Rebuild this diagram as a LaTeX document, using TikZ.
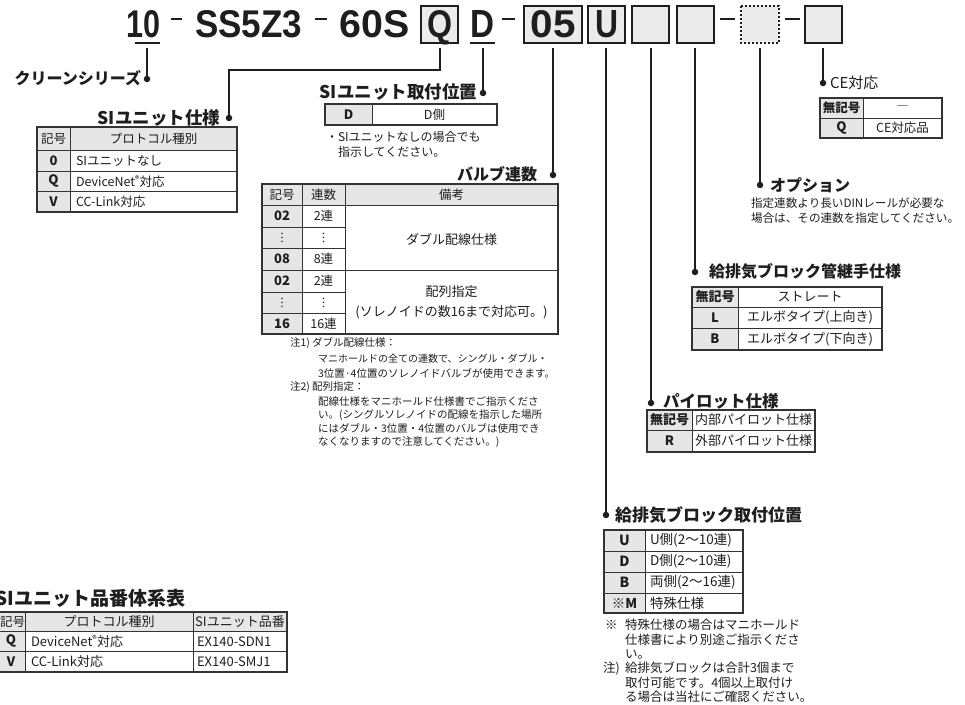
\documentclass[tikz,border=0pt]{standalone}
\usepackage{fontspec}
\usepackage{graphicx}
\setmainfont{Noto Sans CJK JP}
\newfontfamily\ttlfont{Liberation Sans}
\definecolor{ink}{HTML}{1E1E1E}
\definecolor{cellgray}{HTML}{E6E6E6}
\definecolor{boxgray}{HTML}{EBEBEB}
\definecolor{rulec}{HTML}{333333}
\newcommand\myfs[1]{\fontsize{#1}{#1}\selectfont}
\newcommand\ttl[2]{\resizebox{#1pt}{27pt}{\ttlfont\bfseries #2}}
\tikzset{
  txt/.style={inner sep=0pt, outer sep=0pt, text=ink},
  conn/.style={draw=ink, line width=1.3pt},
  dotn/.style={circle, fill=ink, inner sep=0pt, minimum size=6.5pt},
  tbo/.style={draw=rulec, line width=1.2pt},
  tbi/.style={draw=rulec, line width=0.6pt},
  hbox/.style={draw=ink, line width=1.4pt, fill=boxgray},
  dbox/.style={draw=ink, line width=1.4pt, fill=boxgray, dash pattern=on 2pt off 2pt},
  tdash/.style={draw=ink, line width=2.8pt},
  uline/.style={draw=ink, line width=1.6pt},
  cell/.style={txt, font={\myfs{12.5}}},
  cellb/.style={txt, font={\myfs{13}\bfseries}},
  note/.style={txt, anchor=west, font={\myfs{10.5}}},
  hdl/.style={txt, font={\bfseries}}
}
\begin{document}
\begin{tikzpicture}[x=1pt,y=-1pt]
\useasboundingbox (0,0) rectangle (965,704);
\fill[white] (0,0) rectangle (965,704);

% ---------- title ----------
\node[txt, anchor=base] (t10) at (144,37) {\ttl{34}{10}};
\draw[uline] (135,43) -- (160,43);
\draw[tdash] (171,19) -- (182,19);
\node[txt, anchor=base] (tss) at (248.5,37) {\ttl{107}{SS5Z3}};
\draw[tdash] (315,19) -- (327,19);
\node[txt, anchor=base] (t60) at (375,37) {\ttl{70}{60S}};
\draw[hbox] (421,6) rectangle (458,43);
\node[txt, anchor=base] (tq) at (439.5,37) {\ttl{25}{Q}};
\node[txt, anchor=base] (td) at (482.5,37) {\ttl{24}{D}};
\draw[uline] (470,43) -- (495,43);
\draw[tdash] (502,19) -- (515,19);
\draw[hbox] (524,6) rectangle (582,43);
\node[txt, anchor=base] (t05) at (553,37) {\ttl{45}{05}};
\draw[hbox] (588,6) rectangle (625,43);
\node[txt, anchor=base] (tu) at (606.5,37) {\ttl{23}{U}};
\draw[hbox] (632,6) rectangle (669,43);
\draw[hbox] (677,6) rectangle (714,43);
\draw[tdash] (720,19) -- (735,19);
\draw[dbox] (741,6) rectangle (779,43);
\draw[tdash] (785,19) -- (800,19);
\draw[hbox] (805,6) rectangle (842,43);

% ---------- connector starts ----------
\coordinate (c10) at (147,48);
\coordinate (cq) at (440,48);
\coordinate (kq) at (229,70);
\coordinate (cd) at (483,48);
\coordinate (c05) at (553,48);
\coordinate (cu) at (606,48);
\coordinate (cb1) at (651,48);
\coordinate (cb2) at (695,48);
\coordinate (cop) at (760,48);
\coordinate (cce) at (823,48);

% ---------- dots ----------
\node[dotn] (dclean) at (147,79) {};
\node[dotn] (dsi) at (229,118) {};
\node[dotn] (dmount) at (483,93) {};
\node[dotn] (dvalve) at (553,175) {};
\node[dotn] (dblk) at (606,515) {};
\node[dotn] (dpilot) at (651,403) {};
\node[dotn] (dfit) at (695,272) {};
\node[dotn] (dopt) at (760,185) {};
\node[dotn] (dce) at (823,83) {};

\draw[conn] (c10) -- (dclean);
\draw[conn] (cq) |- (kq) -- (dsi);
\draw[conn] (cd) -- (dmount);
\draw[conn] (c05) -- (dvalve);
\draw[conn] (cu) -- (dblk);
\draw[conn] (cb1) -- (dpilot);
\draw[conn] (cb2) -- (dfit);
\draw[conn] (cop) -- (dopt);
\draw[conn] (cce) -- (dce);

% ---------- headings ----------
\node[hdl, anchor=east, font={\myfs{16}\bfseries}] (hclean) at (141,78) {クリーンシリーズ};
\node[hdl, anchor=east, font={\myfs{17.5}\bfseries}] (hsi) at (220,118) {SIユニット仕様};
\node[hdl, anchor=east, font={\myfs{17.5}\bfseries}] (hmount) at (477,92) {SIユニット取付位置};
\node[hdl, anchor=east, font={\myfs{16}\bfseries}] (hvalve) at (537,174) {バルブ連数};
\node[txt, anchor=west, font={\myfs{15}}] (hce) at (830,83) {CE対応};
\node[hdl, anchor=west, font={\myfs{16}\bfseries}] (hopt) at (770,185) {オプション};
\node[hdl, anchor=west, font={\myfs{16}\bfseries}] (hfit) at (709,271) {給排気ブロック管継手仕様};
\node[hdl, anchor=west, font={\myfs{16.5}\bfseries}] (hpilot) at (663,401) {パイロット仕様};
\node[hdl, anchor=west, font={\myfs{17}\bfseries}] (hblk) at (615,515) {給排気ブロック取付位置};
\node[hdl, anchor=east, font={\myfs{19}\bfseries}] (hpn) at (185,598) {SIユニット品番体系表};

% ---------- table A: SI unit spec ----------
\fill[cellgray] (37,127) rectangle (237,150);
\fill[cellgray] (37,150) rectangle (70,212);
\draw[tbi] (70,127) -- (70,212);
\draw[tbi] (37,150) -- (237,150) (37,171) -- (237,171) (37,191.5) -- (237,191.5);
\draw[tbo] (37,127) rectangle (237,212);
\node[cell] (a00) at (53.5,138.5) {記号};
\node[cell] (a01) at (153.5,138.5) {プロトコル種別};
\node[cellb] (a10) at (53.5,160.5) {0};
\node[cell, anchor=west] (a11) at (76,160.5) {SIユニットなし};
\node[cellb] (a20) at (53.5,181.25) {Q};
\node[cell, anchor=west] (a21) at (76,181.25) {DeviceNet\textsuperscript{®}対応};
\node[cellb] (a30) at (53.5,201.75) {V};
\node[cell, anchor=west] (a31) at (76,201.75) {CC-Link対応};

% ---------- table B: SI unit mounting ----------
\fill[cellgray] (325,104) rectangle (372,125);
\draw[tbi] (372,104) -- (372,125);
\draw[tbo] (325,104) rectangle (497,125);
\node[cellb] (b0) at (348.5,114.5) {D};
\node[cell] (b1) at (434.5,114.5) {D側};
\node[txt, anchor=west, font={\myfs{12}}] (bn1) at (326,137) {・SIユニットなしの場合でも};
\node[txt, anchor=west, font={\myfs{12}}] (bn2) at (338,152) {指示してください。};

% ---------- table C: valve stations ----------
\fill[cellgray] (262,184) rectangle (558,205);
\fill[cellgray] (262,205) rectangle (302,334);
\draw[tbi] (302,184) -- (302,334) (345,184) -- (345,334);
\draw[tbi] (262,205) -- (558,205) (262,270) -- (558,270);
\draw[tbi] (262,227) -- (345,227) (262,248) -- (345,248) (262,292) -- (345,292) (262,313) -- (345,313);
\draw[tbo] (262,184) rectangle (558,334);
\node[cell] (c00) at (282,194.5) {記号};
\node[cell] (c01) at (323.5,194.5) {連数};
\node[cell] (c02) at (451.5,194.5) {備考};
\node[cellb] (c10t) at (282,216) {02};
\node[cell] (c11) at (323.5,216) {2連};
\node[cell, font={\myfs{12}}] (c20) at (282,237.5) {︙};
\node[cell, font={\myfs{12}}] (c21) at (323.5,237.5) {︙};
\node[cellb] (c30) at (282,259) {08};
\node[cell] (c31) at (323.5,259) {8連};
\node[cellb] (c40) at (282,281) {02};
\node[cell] (c41) at (323.5,281) {2連};
\node[cell, font={\myfs{12}}] (c50) at (282,302.5) {︙};
\node[cell, font={\myfs{12}}] (c51) at (323.5,302.5) {︙};
\node[cellb] (c60) at (282,323.5) {16};
\node[cell] (c61) at (323.5,323.5) {16連};
\node[cell, font={\myfs{13}}] (cg1) at (451.5,239) {ダブル配線仕様};
\node[cell, font={\myfs{13}}] (cg2a) at (451.5,292) {配列指定};
\node[cell, font={\myfs{13}}] (cg2b) at (451.5,312) {(ソレノイドの数16まで対応可。)};
\node[note] (cn1) at (290,343) {注1) ダブル配線仕様：};
\node[note, font={\myfs{10}}] (cn2) at (318,359) {マニホールドの全ての連数で、シングル・ダブル・};
\node[note] (cn3) at (318,373) {3位置·4位置のソレノイドバルブが使用できます。};
\node[note] (cn4) at (290,387) {注2) 配列指定：};
\node[note] (cn5) at (318,401.5) {配線仕様をマニホールド仕様書でご指示くださ};
\node[note] (cn6) at (318,415) {い。(シングルソレノイドの配線を指示した場所};
\node[note] (cn7) at (318,428.5) {にはダブル・3位置・4位置のバルブは使用でき};
\node[note] (cn8) at (318,442) {なくなりますので注意してください。)};

% ---------- table D: CE ----------
\fill[cellgray] (820,98) rectangle (863,138);
\draw[tbi] (863,98) -- (863,138) (820,118) -- (942,118);
\draw[tbo] (820,98) rectangle (942,138);
\node[cellb, font={\myfs{12.5}\bfseries}] (d00) at (841.5,108) {無記号};
\node[cell] (d01) at (902.5,108) {―};
\node[cellb] (d10) at (841.5,128) {Q};
\node[cell] (d11) at (902.5,128) {CE対応品};

% ---------- option text ----------
\node[txt, anchor=west, font={\myfs{11.6}}] (op1) at (751,203) {指定連数より長いDINレールが必要な};
\node[txt, anchor=west, font={\myfs{11.6}}] (op2) at (751,218) {場合は、その連数を指定してください。};

% ---------- table E: fittings ----------
\fill[cellgray] (692,287) rectangle (738,350);
\draw[tbi] (738,287) -- (738,350) (692,307) -- (882,307) (692,328.3) -- (882,328.3);
\draw[tbo] (692,287) rectangle (882,350);
\node[cellb, font={\myfs{13}\bfseries}] (e00) at (715,297) {無記号};
\node[cell, font={\myfs{13}}] (e01) at (810,297) {ストレート};
\node[cellb] (e10) at (715,317.6) {L};
\node[cell, font={\myfs{13}}] (e11) at (810,317.6) {エルボタイプ(上向き)};
\node[cellb] (e20) at (715,339) {B};
\node[cell, font={\myfs{13}}] (e21) at (810,339) {エルボタイプ(下向き)};

% ---------- table F: pilot ----------
\fill[cellgray] (647,410) rectangle (692,452);
\draw[tbi] (692,410) -- (692,452) (647,430) -- (815,430);
\draw[tbo] (647,410) rectangle (815,452);
\node[cellb, font={\myfs{13}\bfseries}] (f00) at (669.5,420) {無記号};
\node[cell, font={\myfs{13}}] (f01) at (753.5,420) {内部パイロット仕様};
\node[cellb] (f10) at (669.5,441) {R};
\node[cell, font={\myfs{13}}] (f11) at (753.5,441) {外部パイロット仕様};

% ---------- table G: block mounting ----------
\fill[cellgray] (604,530) rectangle (645,613);
\draw[tbi] (645,530) -- (645,613) (604,551) -- (743,551) (604,572) -- (743,572) (604,593) -- (743,593);
\draw[tbo] (604,530) rectangle (743,613);
\node[cellb, font={\myfs{14}\bfseries}] (g00) at (624.5,540.5) {U};
\node[cell, anchor=west, font={\myfs{13.5}}] (g01) at (650,540.5) {U側(2〜10連)};
\node[cellb, font={\myfs{14}\bfseries}] (g10) at (624.5,561.5) {D};
\node[cell, anchor=west, font={\myfs{13.5}}] (g11) at (650,561.5) {D側(2〜10連)};
\node[cellb, font={\myfs{14}\bfseries}] (g20) at (624.5,582.5) {B};
\node[cell, anchor=west, font={\myfs{13.5}}] (g21) at (650,582.5) {両側(2〜16連)};
\node[cell, font={\myfs{13.5}}] (g30) at (624.5,603) {※\textbf{M}};
\node[cell, anchor=west, font={\myfs{13.5}}] (g31) at (650,603) {特殊仕様};
\node[txt, anchor=west, font={\myfs{12.5}}] (gn0) at (605,625) {※};
\node[txt, anchor=west, font={\myfs{12.5}}] (gn1) at (625,625) {特殊仕様の場合はマニホールド};
\node[txt, anchor=west, font={\myfs{12.5}}] (gn2) at (625,640) {仕様書により別途ご指示くださ};
\node[txt, anchor=west, font={\myfs{12.5}}] (gn3) at (625,654) {い。};
\node[txt, anchor=west, font={\myfs{12.5}}] (gn4) at (603,668) {注)};
\node[txt, anchor=west, font={\myfs{12.5}}] (gn5) at (625,668) {給排気ブロックは合計3個まで};
\node[txt, anchor=west, font={\myfs{12.5}}] (gn6) at (625,682.5) {取付可能です。4個以上取付け};
\node[txt, anchor=west, font={\myfs{12.5}}] (gn7) at (625,697) {る場合は当社にご確認ください。};

% ---------- table H: SI unit part numbers ----------
\fill[cellgray] (-3,612) rectangle (287,631);
\fill[cellgray] (-3,631) rectangle (25,672);
\draw[tbi] (25,612) -- (25,672) (193,612) -- (193,672) (-3,631) -- (287,631) (-3,651.5) -- (287,651.5);
\draw[tbo] (-3,612) rectangle (287,672);
\node[cell, font={\myfs{12.5}}] (h00) at (12.5,621.5) {記号};
\node[cell, font={\myfs{13}}] (h01) at (109,621.5) {プロトコル種別};
\node[cell, font={\myfs{13}}] (h02) at (240,621.5) {SIユニット品番};
\node[cellb] (h10) at (11,641.25) {Q};
\node[cell, anchor=west, font={\myfs{13}}] (h11) at (31,641.25) {DeviceNet\textsuperscript{®}対応};
\node[cell, anchor=west, font={\myfs{13}}] (h12) at (197,641.25) {EX140-SDN1};
\node[cellb] (h20) at (11,661.75) {V};
\node[cell, anchor=west, font={\myfs{13}}] (h21) at (31,661.75) {CC-Link対応};
\node[cell, anchor=west, font={\myfs{13}}] (h22) at (197,661.75) {EX140-SMJ1};
\end{tikzpicture}
\end{document}
